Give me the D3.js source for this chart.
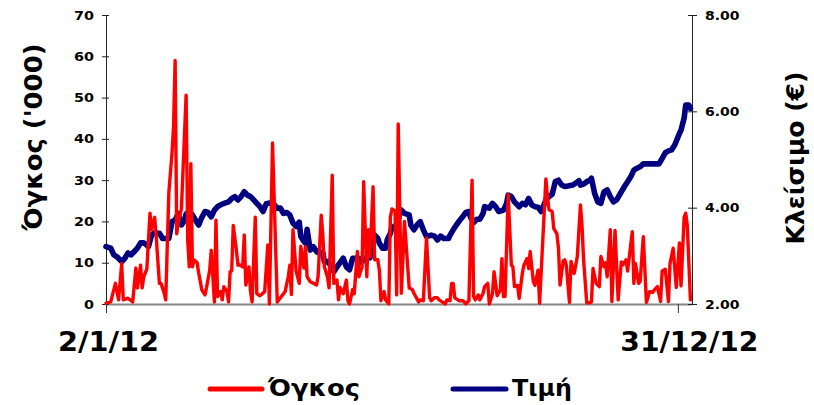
<!DOCTYPE html>
<html><head><meta charset="utf-8">
<script src="https://cdn.jsdelivr.net/npm/d3@7"></script>
<style>body{margin:0;background:#fff}svg{display:block}</style>
</head><body><svg id="c" width="814" height="405"></svg>
<script>
// Days counted from 2 Jan 2012
const volDays=[0,3,6,8,10,11,14,17,19,20,22,23,24,26,28,29,31,32,34,35,37,38,40,42,43,44,45,46,48,51,52,53,54,55,56,58,59,61,63,64,66,67,69,70,71,73,74,75,77,78,79,80,81,83,84,85,87,88,89,91,92,93,95,96,98,99,101,103,104,106,109,111,112,114,116,117,118,119,121,123,124,126,127,128,130,132,134,135,137,138,139,141,142,144,145,147,148,149,151,153,154,155,157,158,160,161,163,164,166,167,168,170,171,173,174,175,177,178,180,181,182,184,185,186,188,190,193,195,196,199,200,202,204,206,207,209,211,212,214,216,217,219,220,221,222,224,225,227,228,229,231,233,234,235,237,238,240,241,243,244,246,247,249,251,252,253,254,256,258,259,260,262,263,265,266,268,269,270,272,273,275,276,280,281,282,284,285,287,288,289,291,292,293,295,296,298,299,300,302,303,304,306,308,309,310,312,314,315,317,318,319,321,322,324,326,328,329,331,332,335,336,337,339,340,342,344,346,348,349,351,353,354,356,358,359,361,363,365,366,368,369,370,372];
const volume=[0.2,0.5,5,1,9.8,1,1.4,0.5,8.7,3.9,9.4,3.9,6.5,8.5,22,18,21,16,5,5,2.7,1,27,36.5,43,59,17,20,23,50.6,15.5,9,34,9,10.7,10,7.5,3.4,2.2,4,8.2,13,0.5,20.3,1.8,3,1,4.2,3,0.5,7.8,8,19,13,9.4,9.5,9,16.7,4.6,9,3,0.5,21,2.5,2,2.3,3,14.3,0,39,0.5,1.5,2,3,6.6,9.4,2.3,18,8,5,14,8.7,13.9,6.6,5.4,5,4.6,6.6,21.5,16.7,9,6.5,3.9,31.2,5,5.8,1,4,2.5,5.8,0.8,0,3.5,2.5,12.7,6.6,9,29.6,6.6,18,11.5,28.4,10.7,10.7,8.2,0.8,3,1,0,21,23,22.5,2.2,43.6,2.6,20,3.9,3.5,2.6,0.5,1,0.8,16,1.5,0.8,1.5,1.5,1,0.5,0,1,0.8,5,5,1.5,1,0.8,0.8,0.5,0,0.8,30,1.8,1,2.2,1,2.6,4.2,5,0,2.5,7.8,2,3.4,11,1.8,1.8,26.5,9.4,9,4.2,4.5,1.4,7.4,9.4,11,8.6,12.7,5.4,4.5,8.2,0.2,30.3,26,22.8,22.4,18.3,17,13.5,4.6,10.4,10.7,9.4,0.4,10.3,7.4,9.4,11.5,24,19,10.7,0.3,0.3,0.5,8.6,5,4.2,11.5,9,10,6.6,18,0.6,17.8,1,10.2,9.5,10.7,8,17.5,5,9.8,5,5.5,16.3,0.4,3,2.8,3.4,4.2,0.6,8,8.4,0.6,9.8,13.5,4,14.8,4.4,21,22,19,1];
const priceDays=[0,3,5,7,10,12,14,16,18,20,22,24,25,27,29,31,33,34,36,38,40,42,44,46,48,50,51,53,55,57,59,61,63,65,67,69,71,73,76,78,80,82,84,86,88,90,92,94,96,98,100,102,105,107,109,111,113,115,117,119,121,123,124,126,127,128,130,132,134,136,138,139,141,144,145,147,149,151,153,155,157,158,161,162,164,166,168,169,171,173,174,176,178,179,181,182,184,186,187,188,190,193,194,196,198,200,202,204,207,209,211,213,215,218,219,221,223,225,227,229,231,232,234,236,238,240,241,244,246,248,250,253,255,256,258,260,263,265,267,269,271,273,275,277,280,282,284,286,288,290,292,294,297,299,301,302,304,306,308,309,311,313,315,317,319,321,323,325,328,330,332,334,336,338,340,342,346,349,352,354,356,358,360,362,365,366,368,369,371,372];
const price=[3.19,3.16,3.02,2.98,2.88,2.95,3.06,3.02,3.09,3.16,3.27,3.27,3.25,3.19,3.43,3.48,3.47,3.47,3.36,3.36,3.36,3.71,3.74,3.88,3.64,3.74,3.87,3.92,3.85,3.74,3.64,3.80,3.92,3.90,3.81,3.95,4.02,4.06,4.10,4.12,4.19,4.23,4.16,4.23,4.33,4.26,4.23,4.16,4.09,4.02,3.92,4.08,4.10,4.06,3.99,3.99,3.88,3.90,3.85,3.68,3.61,3.70,3.40,3.30,3.26,3.55,3.12,3.19,3.09,3.05,3.07,2.88,2.88,2.77,2.67,2.77,2.86,2.95,2.77,2.71,2.95,2.95,2.95,2.86,2.91,2.98,2.96,3.16,3.43,3.36,3.26,3.16,3.16,3.33,3.47,3.60,3.60,3.74,3.88,3.95,3.88,3.85,3.64,3.54,3.64,3.71,3.54,3.40,3.43,3.41,3.33,3.41,3.36,3.36,3.43,3.54,3.64,3.73,3.81,3.90,3.92,3.80,3.69,3.76,3.76,3.88,4.02,3.99,4.09,4.02,3.92,3.95,4.09,4.26,4.23,4.12,4.02,4.09,4.06,4.19,4.06,4.02,4.01,3.92,4.16,4.23,4.28,4.54,4.57,4.47,4.44,4.45,4.47,4.51,4.56,4.47,4.49,4.54,4.57,4.61,4.30,4.12,4.09,4.33,4.37,4.23,4.12,4.16,4.33,4.44,4.54,4.64,4.78,4.82,4.85,4.91,4.91,4.91,4.91,5.02,5.14,5.18,5.20,5.30,5.54,5.61,5.86,6.13,6.13,6.06];
const volTicks=[0,10,20,30,40,50,60,70];
const priceTicks=[2,4,6,8];
const dateTicks=[0,364];
const dateLabels=["2/1/12","31/12/12"];
const seriesNames=["Όγκος","Τιμή"];
const axisTitles=["Όγκος ('000)","Κλείσιμο (€)"];

const FONT="'DejaVu Sans', Verdana, sans-serif";
const svg=d3.select("#c");
const x=d3.scaleLinear().domain([0,373]).range([106,692]);
const yL=d3.scaleLinear().domain([0,70]).range([304,15]);
const yR=d3.scaleLinear().domain([2,8]).range([304,15]);

function fit(sel,w){sel.each(function(){this.setAttribute("textLength",w);this.setAttribute("lengthAdjust","spacingAndGlyphs");});}

// bottom axis
const gx=svg.append("g").attr("transform","translate(0,304)")
 .call(d3.axisBottom(x).tickValues(dateTicks).tickSize(9).tickSizeOuter(0).tickPadding(20).tickFormat((d,i)=>dateLabels[i]));
gx.select(".domain").attr("stroke","#868686").attr("stroke-width",2);
gx.selectAll(".tick line").attr("stroke","#333");
gx.selectAll(".tick text").attr("font-family",FONT).attr("font-weight","bold").attr("font-size",26).attr("fill","#000");
gx.selectAll(".tick text").filter((d,i)=>i===0).attr("dx",2).call(fit,101);
gx.selectAll(".tick text").filter((d,i)=>i===1).attr("dx",11).call(fit,138);

// left axis
const gl=svg.append("g").attr("transform","translate(106,0)")
 .call(d3.axisLeft(yL).tickValues(volTicks).tickSize(4).tickSizeOuter(0).tickPadding(8));
gl.select(".domain").attr("stroke","#222");
gl.selectAll(".tick line").attr("x1",3).attr("stroke","#222");
gl.selectAll(".tick text").attr("font-family",FONT).attr("font-weight","bold").attr("font-size",12.5).attr("fill","#000");
gl.selectAll(".tick text").each(function(){const w=this.getComputedTextLength();fit(d3.select(this),w*1.15);});

// right axis
const gr=svg.append("g").attr("transform","translate(692,0)")
 .call(d3.axisRight(yR).tickValues(priceTicks).tickSize(5).tickSizeOuter(0).tickPadding(8).tickFormat(d3.format(".2f")));
gr.select(".domain").attr("stroke","#222");
gr.selectAll(".tick line").attr("x1",-4).attr("stroke","#222");
gr.selectAll(".tick text").attr("font-family",FONT).attr("font-weight","bold").attr("font-size",12.5).attr("fill","#000");
gr.selectAll(".tick text").each(function(){const w=this.getComputedTextLength();fit(d3.select(this),w*1.12);});

// lines
const lineP=d3.line().x((d,i)=>x(priceDays[i])).y(d=>yR(d));
const lineV=d3.line().x((d,i)=>x(volDays[i])).y(d=>yL(d));
svg.append("path").datum(price).attr("d",lineP).attr("fill","none").attr("stroke","#000080").attr("stroke-width",5.6).attr("stroke-linejoin","round").attr("stroke-linecap","round");
svg.append("path").datum(volume).attr("d",lineV).attr("fill","none").attr("stroke","#ff0000").attr("stroke-width",3.4).attr("stroke-linejoin","round").attr("stroke-linecap","round");

// axis titles
svg.append("text").attr("transform","translate(42,137) rotate(-90)").attr("text-anchor","middle")
 .attr("font-family",FONT).attr("font-weight","bold").attr("font-size",24).text(axisTitles[0]).call(fit,187);
svg.append("text").attr("transform","translate(804,158) rotate(-90)").attr("text-anchor","middle")
 .attr("font-family",FONT).attr("font-weight","bold").attr("font-size",24).text(axisTitles[1]).call(fit,173);

// legend
const legend=[{name:seriesNames[0],color:"#ff0000",x0:210,x1:262,tx:268,tw:92},{name:seriesNames[1],color:"#000080",x0:453,x1:506,tx:512,tw:60}];
const lg=svg.append("g");
legend.forEach(l=>{
 lg.append("line").attr("x1",l.x0).attr("x2",l.x1).attr("y1",389).attr("y2",389).attr("stroke",l.color).attr("stroke-width",5).attr("stroke-linecap","round");
 lg.append("text").attr("x",l.tx).attr("y",396).attr("font-family",FONT).attr("font-weight","bold").attr("font-size",23).text(l.name).call(fit,l.tw);
});
</script></body></html>
